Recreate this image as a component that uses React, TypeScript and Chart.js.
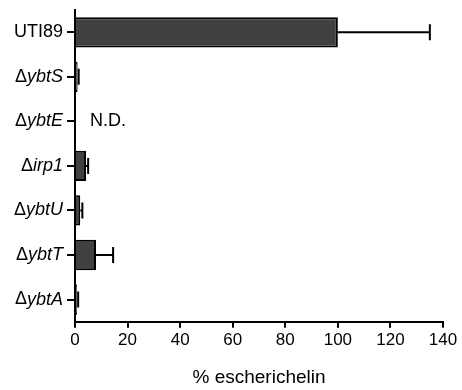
import React, { useEffect, useRef } from "react";
import { Chart, registerables } from "chart.js";

Chart.register(...registerables);

const prefixes = ["", "Δ", "Δ", "Δ", "Δ", "Δ", "Δ"];
const genes = ["UTI89", "ybtS", "ybtE", "irp1", "ybtU", "ybtT", "ybtA"];
const categories = prefixes.map((p, i) => p + genes[i]);
const values = [100, 1, 0, 4.2, 2, 8, 0.8];
const errors = [35, 0.4, 0, 0.8, 0.8, 6.5, 0.4];
const notDetected = [false, false, true, false, false, false, false];
const xTicks = [0, 20, 40, 60, 80, 100, 120, 140];

const FONT = "'Liberation Sans', Arial, Helvetica, sans-serif";

const extrasPlugin = {
  id: "extras",
  afterDatasetsDraw(chart: any) {
    const ctx = chart.ctx;
    const xs = chart.scales.x;
    const ys = chart.scales.y;
    ctx.save();
    ctx.strokeStyle = "#000";
    ctx.lineWidth = 2;
    values.forEach((v, i) => {
      const e = errors[i];
      if (!e) return;
      const y = ys.getPixelForValue(i);
      const x0 = xs.getPixelForValue(v);
      const x1 = xs.getPixelForValue(v + e);
      ctx.beginPath();
      ctx.moveTo(x0, y);
      ctx.lineTo(x1, y);
      ctx.moveTo(x1, y - 8);
      ctx.lineTo(x1, y + 8);
      ctx.stroke();
    });
    ctx.fillStyle = "#000";
    ctx.font = `18px ${FONT}`;
    ctx.textBaseline = "middle";
    ctx.textAlign = "left";
    notDetected.forEach((nd, i) => {
      if (!nd) return;
      ctx.fillText("N.D.", xs.getPixelForValue(0) + 15, ys.getPixelForValue(i));
    });
    ctx.restore();
  },
  afterDraw(chart: any) {
    const ctx = chart.ctx;
    const ys = chart.scales.y;
    const right = ys.right - 12;
    ctx.save();
    ctx.fillStyle = "#000";
    ctx.textBaseline = "middle";
    ctx.textAlign = "right";
    genes.forEach((g, i) => {
      const y = ys.getPixelForValue(i);
      const italic = prefixes[i] !== "";
      ctx.font = `${italic ? "italic " : ""}18px ${FONT}`;
      const w = ctx.measureText(g).width;
      ctx.fillText(g, right, y);
      if (prefixes[i]) {
        ctx.font = `18px ${FONT}`;
        ctx.fillText(prefixes[i], right - w, y);
      }
    });
    ctx.restore();
  },
};

export default function App() {
  const ref = useRef<HTMLCanvasElement>(null);
  useEffect(() => {
    if (!ref.current) return;
    const chart = new Chart(ref.current, {
      type: "bar",
      data: {
        labels: categories,
        datasets: [
          {
            data: values,
            backgroundColor: "#404040",
            borderColor: "#000",
            borderWidth: 2,
            barPercentage: 0.68,
            categoryPercentage: 1,
          },
        ],
      },
      options: {
        indexAxis: "y",
        animation: false,
        responsive: false,
        maintainAspectRatio: false,
        layout: { padding: { top: 10, right: 19, bottom: 1, left: 0 } },
        plugins: { legend: { display: false }, tooltip: { enabled: false } },
        scales: {
          x: {
            type: "linear",
            min: 0,
            max: 140,
            afterBuildTicks: (s: any) => {
              s.ticks = xTicks.map((v) => ({ value: v }));
            },
            ticks: { color: "#000", font: { family: FONT, size: 17 }, padding: 2 },
            grid: { drawOnChartArea: false, drawTicks: true, tickLength: 6, color: "#000", lineWidth: 2 },
            border: { display: true, color: "#000", width: 2 },
            title: {
              display: true,
              text: "% escherichelin",
              color: "#000",
              font: { family: FONT, size: 19 },
              padding: { top: 14, bottom: 0 },
            },
          },
          y: {
            type: "category",
            offset: true,
            afterFit: (s: any) => {
              s.width = 75;
            },
            ticks: { display: false },
            grid: { drawOnChartArea: false, drawTicks: true, tickLength: 8, color: "#000", lineWidth: 2, offset: false },
            border: { display: true, color: "#000", width: 2 },
          },
        },
      },
      plugins: [extrasPlugin],
    });
    return () => chart.destroy();
  }, []);
  return (
    <div style={{ position: "fixed", left: 0, top: 0, width: 462, height: 390, background: "#fff" }}>
      <canvas ref={ref} width={462} height={390} style={{ width: 462, height: 390 }} />
    </div>
  );
}
